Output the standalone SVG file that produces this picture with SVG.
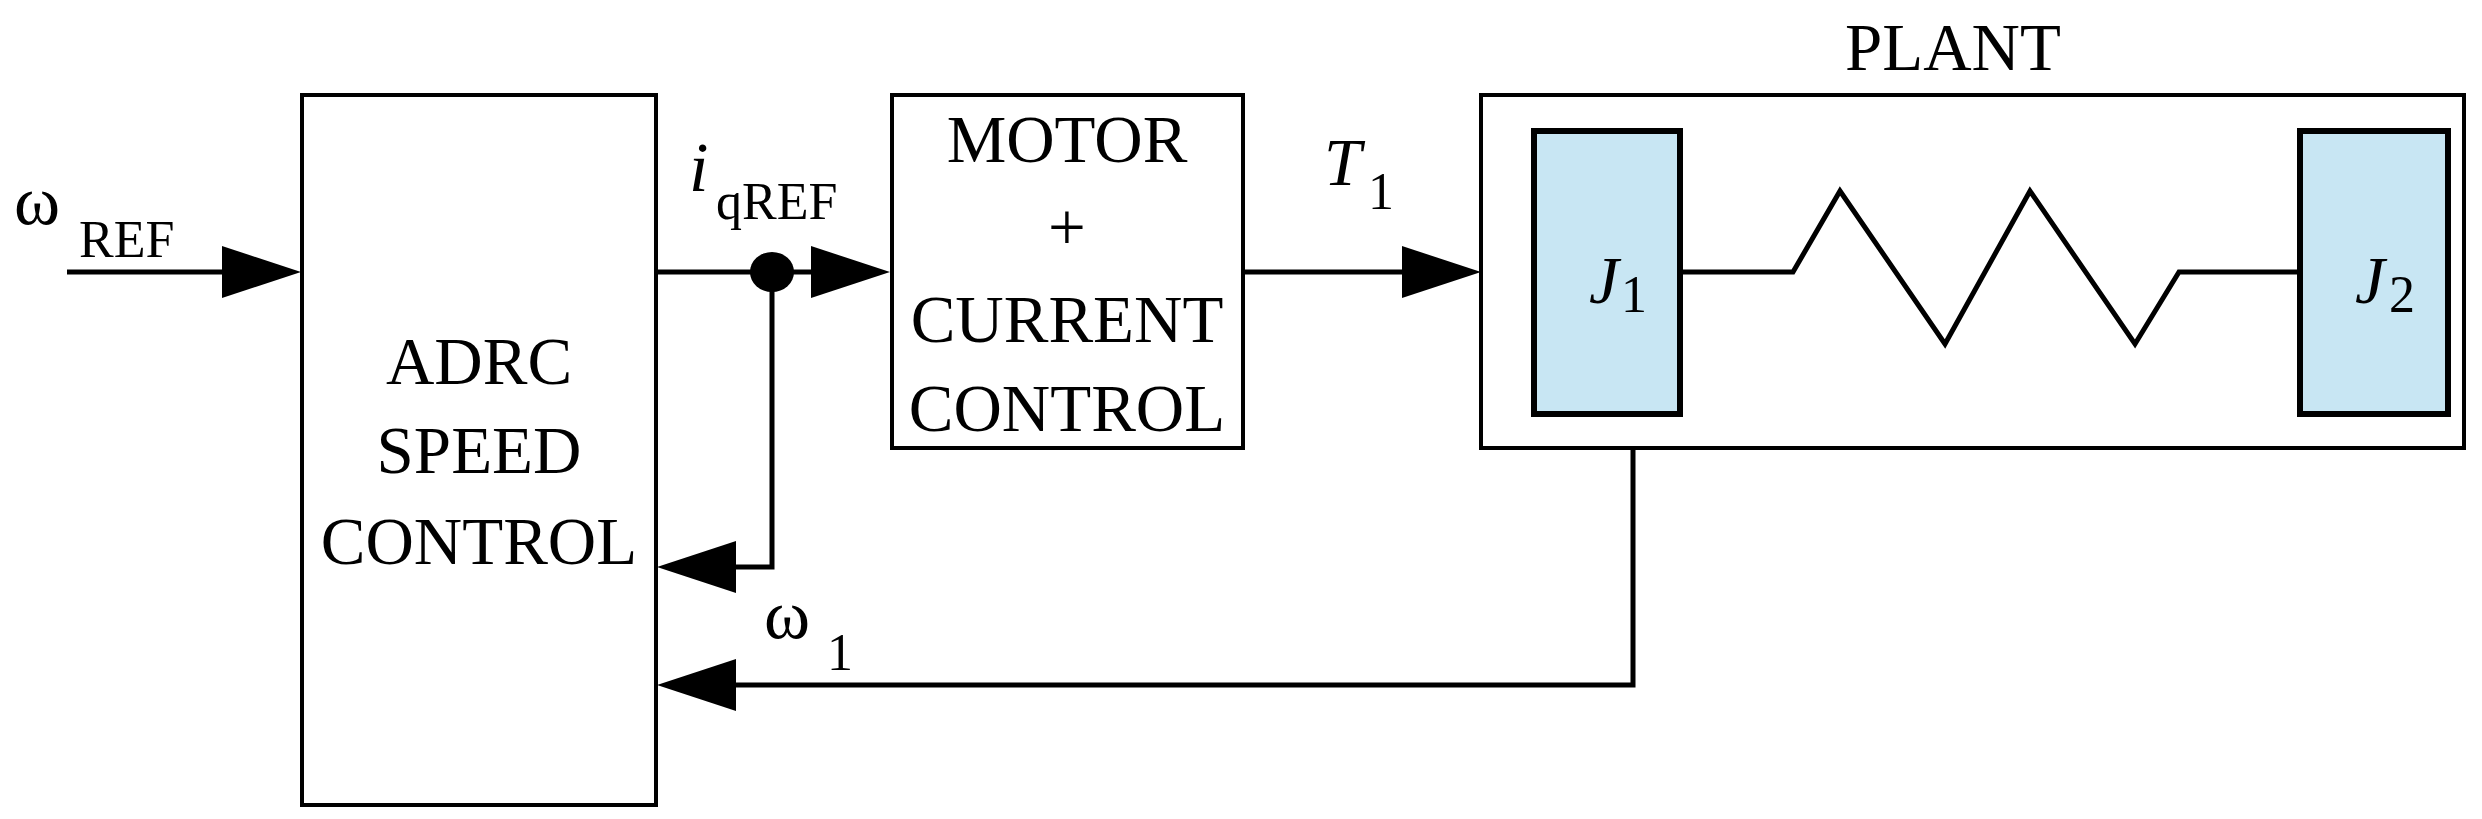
<svg xmlns="http://www.w3.org/2000/svg" width="2482" height="819" viewBox="0 0 2482 819">
<style>
text{font-family:"Liberation Serif","Times New Roman",serif;fill:#000}
.t{font-size:67px;text-anchor:middle}
.s{font-size:52px}
.i{font-style:italic}
.box{fill:#fff;stroke:#000;stroke-width:4}
.j{fill:#c8e6f3;stroke:#000;stroke-width:6}
.ln{fill:none;stroke:#000;stroke-width:5}
</style>
<rect width="2482" height="819" fill="#fff"/>
<g id="adrc">
<rect class="box" x="302" y="95" width="354" height="710"/>
<text class="t" x="479" y="384">ADRC</text>
<text class="t" x="479" y="473">SPEED</text>
<text class="t" x="479" y="564">CONTROL</text>
</g>
<g id="motor">
<rect class="box" x="892" y="95" width="351" height="353"/>
<text class="t" x="1067" y="162">MOTOR</text>
<text class="t" x="1067" y="250">+</text>
<text class="t" x="1067" y="342">CURRENT</text>
<text class="t" x="1067" y="431">CONTROL</text>
</g>
<g id="plant">
<rect class="box" x="1481" y="95" width="983" height="353"/>
<text class="t" x="1953" y="70">PLANT</text>
<rect class="j" x="1534" y="131" width="146" height="283"/>
<text x="1589" y="303" font-size="67" class="i">J</text><text x="1621" y="312" class="s">1</text>
<rect class="j" x="2300" y="131" width="148" height="283"/>
<text x="2355" y="303" font-size="67" class="i">J</text><text x="2389" y="312" class="s">2</text>
<polyline class="ln" stroke-width="4" points="1680,272 1793,272 1840,191 1945,344 2030,191 2135,344 2179,272 2297,272"/>
</g>
<g id="connectors">
<line class="ln" x1="67" y1="272" x2="230" y2="272"/>
<polygon points="222,246 301,272 222,298"/>
<line class="ln" x1="656" y1="272" x2="815" y2="272"/>
<ellipse cx="772" cy="272" rx="22" ry="20"/>
<polygon points="811,246 890,272 811,298"/>
<polyline class="ln" points="772,272 772,567 730,567"/>
<polygon points="736,541 657,567 736,593"/>
<line class="ln" x1="1243" y1="272" x2="1410" y2="272"/>
<polygon points="1402,246 1481,272 1402,298"/>
<polyline class="ln" points="1633,448 1633,685 730,685"/>
<polygon points="736,659 657,685 736,711"/>
</g>
<g id="labels">
<text x="14" y="224" font-size="70">ω</text><text x="79" y="257" class="s">REF</text>
<text x="689" y="191" font-size="70" class="i">i</text><text x="716" y="219" class="s">qREF</text>
<text x="1324" y="185" font-size="67" class="i">T</text><text x="1368" y="209" class="s">1</text>
<text x="764" y="638" font-size="70">ω</text><text x="827" y="670" class="s">1</text>
</g>
</svg>
